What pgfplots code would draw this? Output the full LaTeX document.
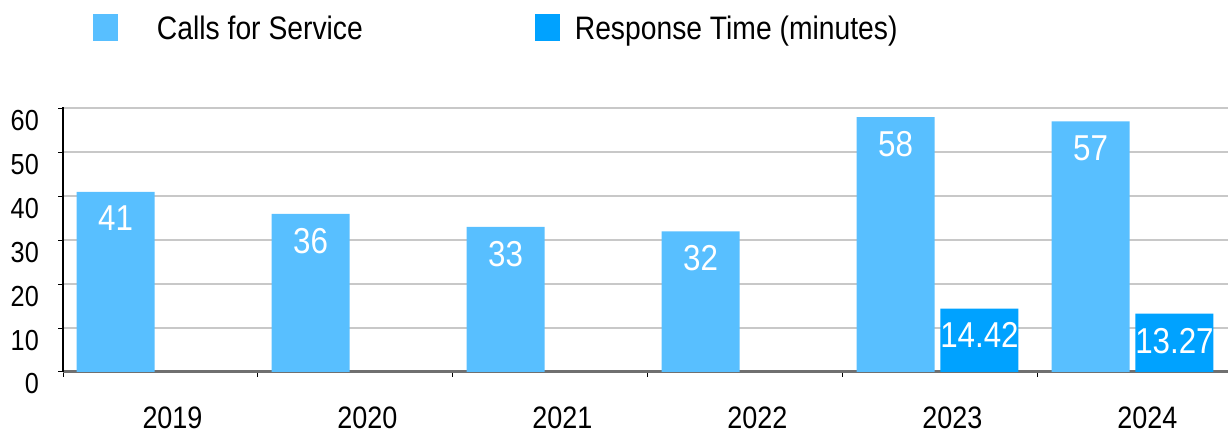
\documentclass[border=0pt]{standalone}
\usepackage{fontspec}
\setmainfont[FakeStretch=0.87]{Liberation Sans}
\usepackage{pgfplots}
\pgfplotsset{compat=1.18}
\definecolor{callc}{HTML}{58BFFF}
\definecolor{respc}{HTML}{00A2FF}
\definecolor{gridc}{HTML}{C8C8C8}
\definecolor{axc}{HTML}{707070}
\pgfplotsset{sqlegend/.style={legend image code/.code={\fill[##1] (0pt,-13pt) rectangle (25pt,14pt);}}}
\begin{document}
\begin{tikzpicture}
\begin{axis}[
  at={(63pt,61pt)}, anchor=south west,
  scale only axis, width=1170pt, height=265pt,
  xmin=-0.5, xmax=5.5, ymin=0, ymax=60.3,
  axis x line*=bottom, axis y line*=left,
  x axis line style={axc, line width=3pt},
  y axis line style={black, line width=1.5pt},
  xtick={-0.5,0.5,1.5,2.5,3.5,4.5},
  xticklabels={2019,2020,2021,2022,2023,2024},
  ytick={0,10,...,60},
  tick align=outside,
  major tick length=5pt,
  tick style={black, line width=1pt},
  ymajorgrids, grid style={gridc, line width=2pt},
  /pgf/number format/assume math mode=true,
  xticklabel style={font=\fontsize{31}{31}\selectfont, anchor=north, inner sep=0pt, xshift=109.5pt, yshift=-30pt},
  yticklabel style={font=\fontsize{29}{29}\selectfont, anchor=east, inner sep=0pt, xshift=-19pt, yshift=-12pt},
  nodes near coords,
  nodes near coords style={anchor=north, inner sep=0pt, yshift=-14pt, text=white, font=\fontsize{36}{36}\selectfont},
  legend columns=2,
  legend style={at={(0,1)}, anchor=west, xshift=30pt, yshift=79pt, draw=none, fill=none,
    inner sep=0pt, outer sep=0pt, font=\fontsize{32.5}{32.5}\selectfont,
    nodes={inner sep=0pt},
    /tikz/every odd column/.append style={column sep=15pt},
    /tikz/every even column/.append style={column sep=172pt}},
]
\addplot[ybar, bar width=0.4, bar shift=-0.23, fill=callc, draw=none, sqlegend,
  nodes near coords style={xshift=-44.9pt}]
  coordinates {(0,41) (1,36) (2,33) (3,32) (4,58) (5,57)};
\addlegendentry{\hspace{24pt}Calls for Service}
\addplot[ybar, bar width=0.4, bar shift=0.2, fill=respc, draw=none, sqlegend,
  nodes near coords style={xshift=39pt}]
  coordinates {(4,14.42) (5,13.27)};
\addlegendentry{Response Time (minutes)}
\end{axis}
\pgfresetboundingbox
\path (0pt,0pt) rectangle (1228pt,433pt);
\end{tikzpicture}
\end{document}
